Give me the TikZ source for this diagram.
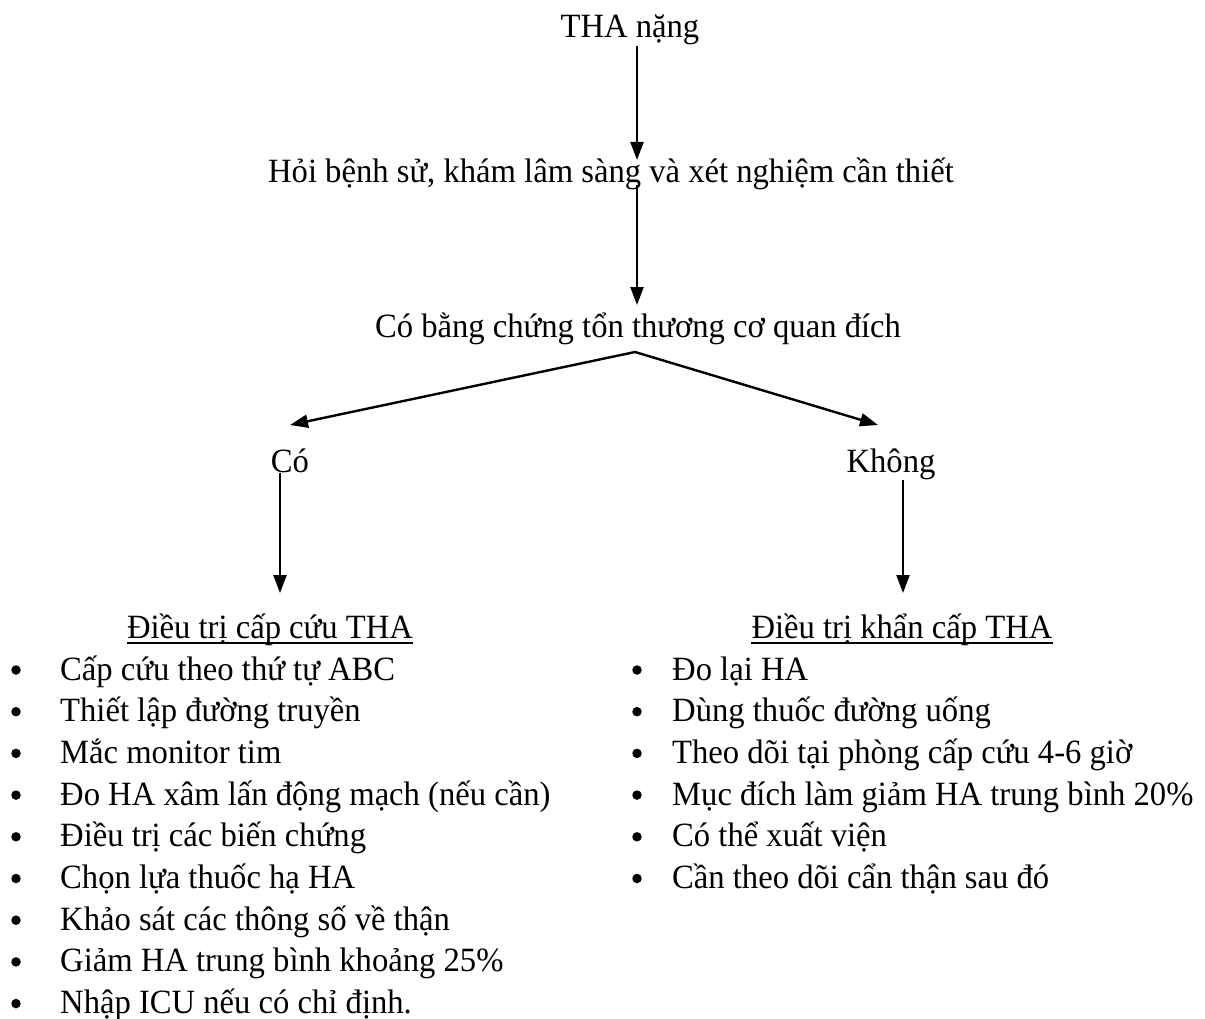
\documentclass[tikz,border=0pt]{standalone}
\usepackage{fontspec}
\setmainfont[FakeStretch=0.96]{Liberation Serif}
\usetikzlibrary{arrows.meta}
\begin{document}
\begin{tikzpicture}[x=1pt,y=-1pt,
 txt/.style={inner sep=0pt, anchor=base, font=\fontsize{34}{40}\selectfont},
 item/.style={inner sep=0pt, anchor=base west, font=\fontsize{34}{40}\selectfont},
 arr/.style={line width=2.4pt, -{Triangle[length=18pt,width=13pt]}},
 uline/.style={line width=1.8pt},
 bul/.style={circle, fill, inner sep=0pt, minimum size=9.5pt}]
\useasboundingbox (0,0) rectangle (1205,1019);
\node[txt] (tha) at (630,38) {THA nặng};
\node[txt] (hoi) at (611,183) {Hỏi bệnh sử, khám lâm sàng và xét nghiệm cần thiết};
\node[txt] (cobang) at (638,337) {Có bằng chứng tổn thương cơ quan đích};
\node[txt] (co) at (290,472) {Có};
\node[txt] (khong) at (891,472) {Không};
\node[txt] (h1) at (270,638) {Điều trị cấp cứu THA};
\node[txt] (h2) at (902,638) {Điều trị khẩn cấp THA};
\draw[uline] ([yshift=-5pt]h1.base west) -- ([yshift=-5pt]h1.base east);
\draw[uline] ([yshift=-5pt]h2.base west) -- ([yshift=-5pt]h2.base east);
% connectors
\coordinate (a1e) at (637,160);
\coordinate (a2s) at (637,185);
\coordinate (a2e) at (637,305);
\coordinate (apex) at (635,352);
\coordinate (lt) at (290,425);
\coordinate (rt) at (878,425);
\coordinate (c1e) at (280,593);
\coordinate (c2e) at (903,593);
\draw[arr] (tha.south -| a1e) -- (a1e);
\draw[arr] (a2s) -- (a2e);
\draw[arr] (apex) -- (lt);
\draw[arr] (apex) -- (rt);
\draw[arr] (co.south -| c1e) -- (c1e);
\draw[arr] (khong.south -| c2e) -- (c2e);
% left list
\foreach \t [count=\i] in {Cấp cứu theo thứ tự ABC, Thiết lập đường truyền, Mắc monitor tim, Đo HA xâm lấn động mạch (nếu cần), Điều trị các biến chứng, Chọn lựa thuốc hạ HA, Khảo sát các thông số về thận, Giảm HA trung bình khoảng 25\%, Nhập ICU nếu có chỉ định.}{
  \node[item] (l\i) at (60,{680+41.7*(\i-1)}) {\t};
  \node[bul] (lb\i) at (16,{670+41.7*(\i-1)}) {};
}
% right list
\foreach \t [count=\i] in {Đo lại HA, Dùng thuốc đường uống, Theo dõi tại phòng cấp cứu 4-6 giờ, Mục đích làm giảm HA trung bình 20\%, Có thể xuất viện, Cần theo dõi cẩn thận sau đó}{
  \node[item] (r\i) at (672,{680+41.7*(\i-1)}) {\t};
  \node[bul] (rb\i) at (637,{670+41.7*(\i-1)}) {};
}
\end{tikzpicture}
\end{document}
